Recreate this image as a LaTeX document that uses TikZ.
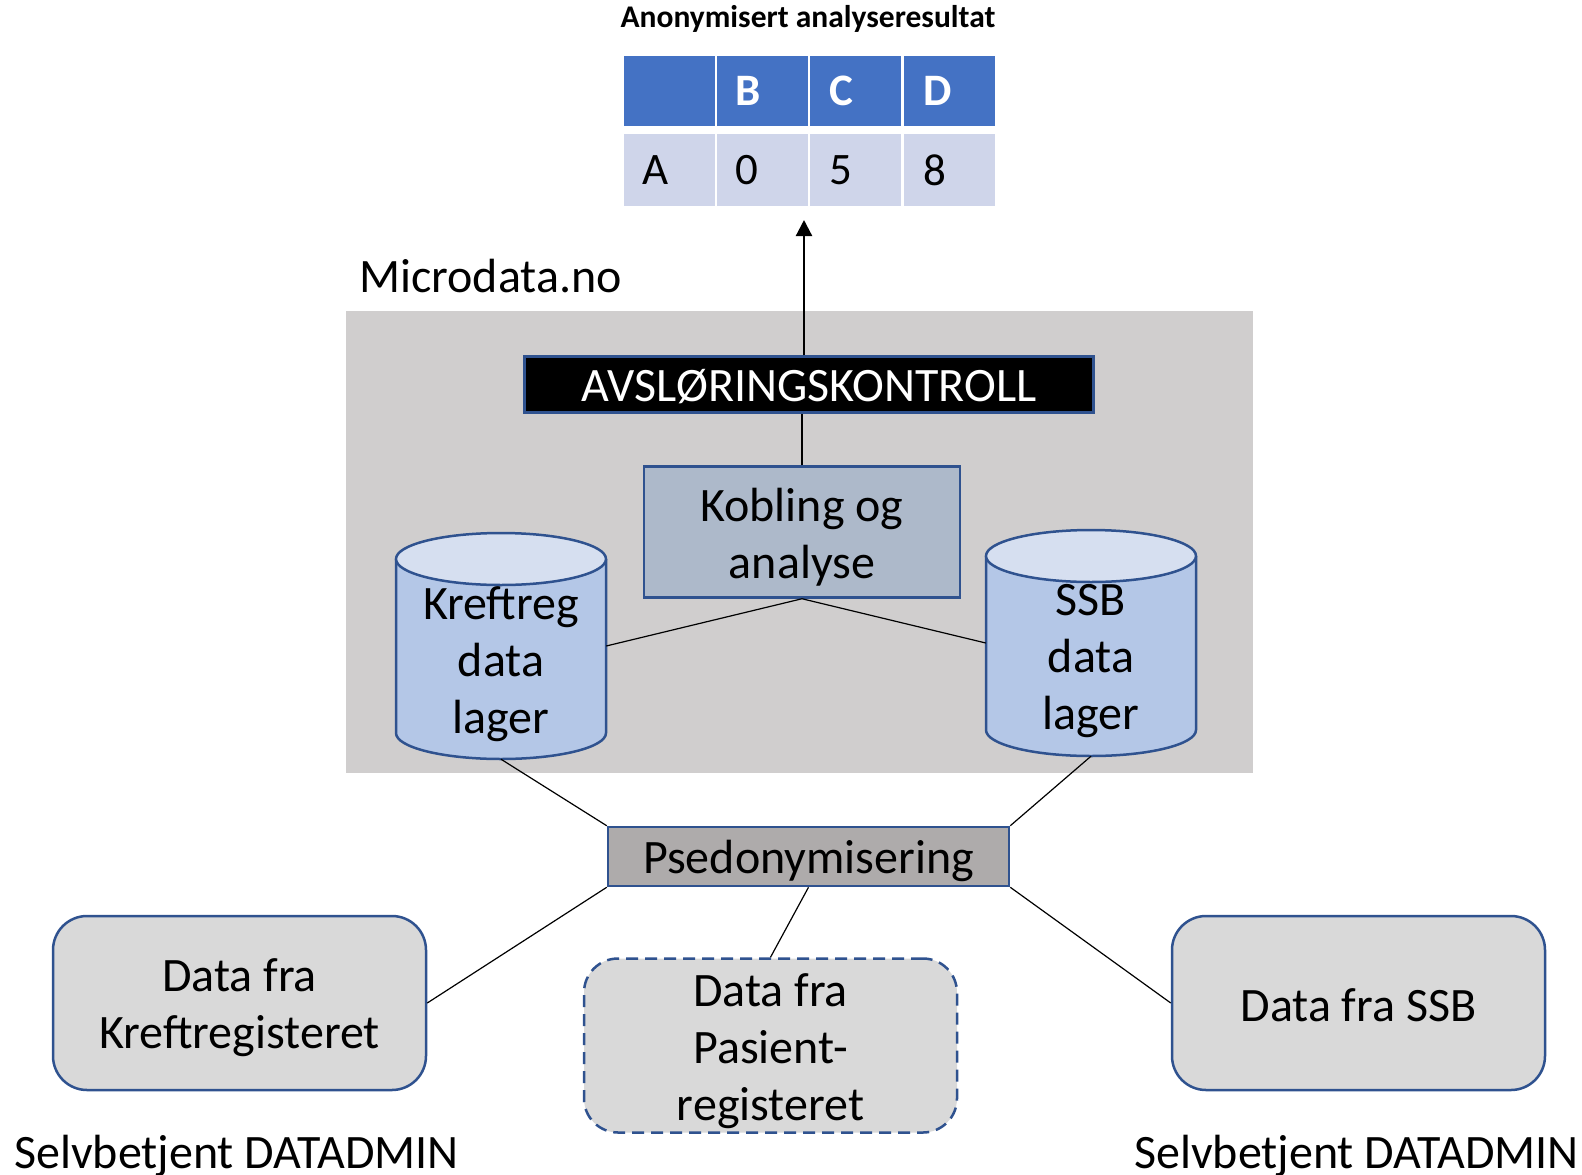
\documentclass[tikz,border=0pt]{standalone}
\usepackage{fontspec}
\setmainfont{Carlito}
\usetikzlibrary{arrows.meta}
\definecolor{bordblue}{HTML}{2F528F}
\definecolor{bigbg}{HTML}{D0CECE}
\definecolor{kobfill}{HTML}{ADB9CA}
\definecolor{psedfill}{HTML}{AEABAB}
\definecolor{boxfill}{HTML}{D9D9D9}
\definecolor{cylbody}{HTML}{B4C7E7}
\definecolor{cyltop}{HTML}{D6DFF0}
\definecolor{headblue}{HTML}{4472C4}
\definecolor{rowblue}{HTML}{CFD5EA}
\tikzset{
  big/.style={font=\fontsize{48}{57}\selectfont},
  txt/.style={big, align=center, inner sep=0pt},
  conn/.style={draw=black, line width=1.2pt},
  sqbox/.style={draw=bordblue, line width=2.5pt, inner sep=0pt},
  rbox/.style={draw=bordblue, line width=2.5pt, fill=boxfill, rounded corners=34pt, inner sep=0pt, minimum width=373pt, minimum height=174pt},
  hcell/.style={fill=headblue, text=white, font=\fontsize{45}{50}\bfseries\selectfont, minimum height=70pt, text width=53pt, inner xsep=19pt, inner ysep=0pt, align=left},
  rcell/.style={fill=rowblue, font=\fontsize{45}{50}\selectfont, minimum height=72pt, text width=53pt, inner xsep=19pt, inner ysep=0pt, align=left},
  cylbox/.style={minimum width=210pt, minimum height=226pt, inner sep=0pt},
}
\begin{document}
\begin{tikzpicture}[x=1pt,y=-1pt]
\useasboundingbox (0,0) rectangle (1582,1175);
% title
\node[font=\fontsize{31.5}{36}\bfseries\selectfont] (title) at (808,19) {Anonymisert analyseresultat};
% table
\node[hcell] (h0) at (669,91) {\strut};
\node[hcell] (h1) at (762,91) {B};
\node[hcell] (h2) at (855.5,91) {C};
\node[hcell] (h3) at (949.5,91) {D};
\node[rcell] (r0) at (669,170) {A};
\node[rcell] (r1) at (762,170) {0};
\node[rcell] (r2) at (855.5,170) {5};
\node[rcell] (r3) at (949.5,170) {8};
% big grey area
\node[fill=bigbg, minimum width=907pt, minimum height=462pt, inner sep=0pt] (area) at (799.5,542) {};
\node[big, anchor=west, inner sep=0pt] (micro) at (359,276) {Microdata.no};
% avsloringskontroll
\node[sqbox, fill=black, minimum width=569pt, minimum height=56pt] (avs) at (809,384.5) {};
\node[txt, text=white] (avstext) at (809,386.5) {AVSLØRINGSKONTROLL};
\coordinate (tip) at (804,220);
\draw[line width=2.2pt, -{Triangle[length=16pt,width=16pt]}] (tip |- avs.north) -- (tip);
% kobling
\node[sqbox, fill=kobfill, minimum width=316pt, minimum height=131pt] (kob) at (802,532) {};
\node[txt] (kobtext) at (802,537) {Kobling og\\analyse};
\draw[conn] (kob.north) -- (kob.north |- avs.south);
% cylinders
\fill[cylbody] (396,559) -- (396,733) arc (180:0:105 and 26) -- (606,559) -- cycle;
\draw[bordblue, line width=2.5pt] (396,559) -- (396,733) arc (180:0:105 and 26) -- (606,559);
\draw[bordblue, line width=2.5pt, fill=cyltop] (501,559) ellipse (105 and 26);
\node[cylbox] (kcyl) at (501,646) {};
\node[txt] (ktext) at (501,664) {Kreftreg\\data\\lager};
\fill[cylbody] (986,556) -- (986,730) arc (180:0:105 and 26) -- (1196,556) -- cycle;
\draw[bordblue, line width=2.5pt] (986,556) -- (986,730) arc (180:0:105 and 26) -- (1196,556);
\draw[bordblue, line width=2.5pt, fill=cyltop] (1091,556) ellipse (105 and 26);
\node[cylbox] (scyl) at (1091,643) {};
\node[txt] (stext) at (1091,661) {SSB\\data\\lager};
\draw[conn] (kob.south) -- (kcyl.east);
\draw[conn] (kob.south) -- (scyl.west);
% psedonymisering
\node[sqbox, fill=psedfill, minimum width=401pt, minimum height=59pt] (psed) at (808.5,856.5) {};
\node[txt] (psedtext) at (808.5,860.5) {Psedonymisering};
\draw[conn] (kcyl.south) -- (psed.north west);
\draw[conn] (scyl.south) -- (psed.north east);
% sources
\node[rbox] (kreft) at (239.5,1003) {};
\node[txt] (krefttext) at (239.5,1008) {Data fra\\Kreftregisteret};
\node[rbox, dashed, dash pattern=on 12pt off 7pt] (pas) at (770.5,1045.5) {};
\node[txt] (pastext) at (770.5,1051.5) {Data fra\\Pasient-\\registeret};
\node[rbox] (ssb) at (1358.5,1003) {};
\node[txt] (ssbtext) at (1358.5,1005) {Data fra SSB};
\draw[conn] (psed.south west) -- (kreft.east);
\draw[conn] (psed.south) -- (pas.north);
\draw[conn] (psed.south east) -- (ssb.west);
% labels
\node[big, anchor=base west, inner sep=0pt] (selvl) at (14,1168) {Selvbetjent DATADMIN};
\node[big, anchor=base west, inner sep=0pt] (selvr) at (1134,1168) {Selvbetjent DATADMIN};
\end{tikzpicture}
\end{document}
